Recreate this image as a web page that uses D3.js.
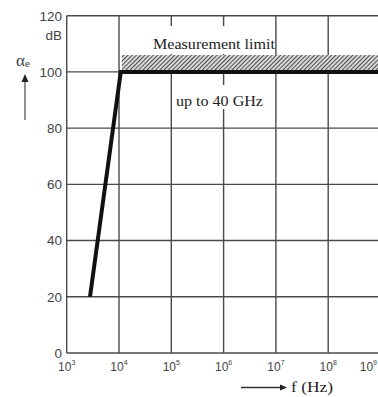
<!DOCTYPE html>
<html><head><meta charset="utf-8">
<script src="https://cdn.jsdelivr.net/npm/d3@7"></script>
<style>html,body{margin:0;padding:0;background:#fff;overflow:hidden}</style>
</head><body>
<svg id="c" width="378" height="397"></svg>
<script>
// Data
const yTicks = [0, 20, 40, 60, 80, 100, 120];
const xExponents = [3, 4, 5, 6, 7, 8, 9];
const curveFreq = [2790, 10800, 1e9];
const curveDb = [20, 100, 100];
const limitFreq = [11300, 1e9];
const limitDb = [100, 106];
const yUnit = "dB";
const xTitle = "f (Hz)";
const limitLabel = "Measurement limit";
const rangeLabel = "up to 40 GHz";

const svg = d3.select("#c");
const x = d3.scaleLog().domain([1e3, 1e9]).range([66.7, 380.5]);
const y = d3.scaleLinear().domain([0, 120]).range([353, 15.7]);

const defs = svg.append("defs");
const pat = defs.append("pattern").attr("id", "hatch").attr("patternUnits", "userSpaceOnUse")
  .attr("width", 3).attr("height", 3).attr("patternTransform", "rotate(45)");
pat.append("rect").attr("width", 3).attr("height", 3).attr("fill", "#d8d8d8");
pat.append("line").attr("x1", 0).attr("y1", 0).attr("x2", 0).attr("y2", 3)
  .attr("stroke", "#1e1e1e").attr("stroke-width", 1.5);

const grid = "#4a4a4a";
// horizontal gridlines
svg.append("g").selectAll("line").data(yTicks).join("line")
  .attr("x1", x(1e3)).attr("x2", x(1e9)).attr("y1", d => y(d)).attr("y2", d => y(d))
  .attr("stroke", grid).attr("stroke-width", 1.4);
// vertical gridlines
svg.append("g").selectAll("line").data(xExponents).join("line")
  .attr("x1", d => x(Math.pow(10, d))).attr("x2", d => x(Math.pow(10, d)))
  .attr("y1", y(0)).attr("y2", y(120))
  .attr("stroke", grid).attr("stroke-width", 1.4);

// hatched limit band
svg.append("rect")
  .attr("x", x(limitFreq[0])).attr("width", x(limitFreq[1]) - x(limitFreq[0]))
  .attr("y", y(limitDb[1])).attr("height", y(limitDb[0]) - y(limitDb[1]))
  .attr("fill", "url(#hatch)");

// white boxes behind labels
svg.append("rect").attr("x", 150).attr("y", 26).attr("width", 124).attr("height", 28).attr("fill", "#fff");
svg.append("rect").attr("x", 174).attr("y", 85).attr("width", 92).attr("height", 24).attr("fill", "#fff");

svg.append("text").attr("x", 153).attr("y", 49).attr("font-family", "Liberation Serif, serif")
  .attr("font-size", 14).attr("fill", "#222").attr("textLength", 122).attr("lengthAdjust", "spacingAndGlyphs")
  .text(limitLabel);
svg.append("text").attr("x", 176).attr("y", 106).attr("font-family", "Liberation Serif, serif")
  .attr("font-size", 14).attr("fill", "#222").attr("textLength", 87).attr("lengthAdjust", "spacingAndGlyphs")
  .text(rangeLabel);

// curve
const pts = curveFreq.map((f, i) => [f, curveDb[i]]);
svg.append("path").datum(pts)
  .attr("d", d3.line().x(d => x(d[0])).y(d => y(d[1])))
  .attr("fill", "none").attr("stroke", "#111").attr("stroke-width", 4).attr("stroke-linejoin", "miter");

// y axis labels
svg.append("g").selectAll("text").data(yTicks).join("text")
  .attr("x", 62).attr("y", d => y(d)).attr("dy", "0.36em").attr("text-anchor", "end")
  .attr("font-family", "Liberation Sans, Arial, sans-serif").attr("font-size", 13.5).attr("fill", "#444")
  .text(d => d);
svg.append("text").attr("x", 62).attr("y", 40).attr("text-anchor", "end")
  .attr("font-family", "Liberation Sans, Arial, sans-serif").attr("font-size", 13.5).attr("fill", "#444")
  .text(yUnit);

// alpha_e label with arrow
const ae = svg.append("text").attr("x", 16).attr("y", 66).attr("font-family", "Liberation Serif, serif")
  .attr("font-size", 17).attr("fill", "#444");
ae.append("tspan").text("α");
ae.append("tspan").attr("font-size", 11).attr("dy", 1).text("e");
svg.append("line").attr("x1", 25).attr("x2", 25).attr("y1", 120).attr("y2", 80)
  .attr("stroke", "#555").attr("stroke-width", 1.3);
svg.append("path").attr("d", "M25,74 L21.5,82 L28.5,82 Z").attr("fill", "#222");

// x axis labels (last one kept inside the window)
const xl = svg.append("g").selectAll("text").data(xExponents).join("text")
  .attr("x", d => d === 9 ? 377 : x(Math.pow(10, d)))
  .attr("y", 371).attr("text-anchor", d => d === 9 ? "end" : "middle")
  .attr("font-family", "Liberation Sans, Arial, sans-serif").attr("font-size", 12).attr("fill", "#444");
xl.append("tspan").text("10");
xl.append("tspan").attr("font-size", 7).attr("dy", -6).text(d => d);

// x title with arrow
svg.append("line").attr("x1", 241).attr("x2", 282).attr("y1", 387.5).attr("y2", 387.5)
  .attr("stroke", "#333").attr("stroke-width", 1.3);
svg.append("path").attr("d", "M287,387.5 L280,384.5 L280,390.5 Z").attr("fill", "#222");
svg.append("text").attr("x", 291).attr("y", 392).attr("font-family", "Liberation Serif, serif")
  .attr("font-size", 14).attr("fill", "#222").attr("textLength", 42).attr("lengthAdjust", "spacingAndGlyphs")
  .text(xTitle);
</script>
</body></html>
